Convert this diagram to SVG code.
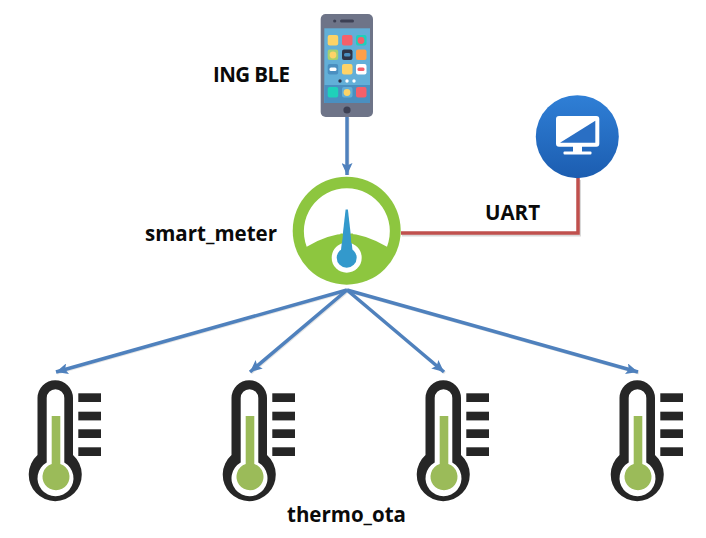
<svg xmlns="http://www.w3.org/2000/svg" width="706" height="538" viewBox="0 0 706 538">
<style>
text{font-family:"Open Sans","Liberation Sans",Arial,sans-serif;font-weight:bold;font-size:20.5px;fill:#0a0a0a}
.b{stroke:#4f81bd;stroke-width:3.5;fill:none;marker-end:url(#ah)}
.bs{stroke:#000;stroke-opacity:.1;stroke-width:3;fill:none}
.r{stroke:#c0504d;stroke-width:3.5;fill:none}
.sh{stroke:#000;stroke-opacity:.15;stroke-width:3;fill:none}
.bar{fill:#262626}
</style>
<defs>
<marker id="ah" markerUnits="userSpaceOnUse" markerWidth="13" markerHeight="11" refX="12" refY="5.5" orient="auto"><path d="M0 0L12 5.5L0 11L2.5 5.5Z" fill="#4f81bd"/></marker>
<linearGradient id="mon" x1="0" y1="0" x2="0" y2="1"><stop offset="0" stop-color="#2f7fd6"/><stop offset="1" stop-color="#1c5db0"/></linearGradient>
<g id="therm">
<path d="M37.5 398a17.75 17.75 0 0 1 35.5 0V455a26.5 26.5 0 1 1-35.5 0Z" fill="#262626"/>
<path d="M46.7 398a8.8 8.8 0 0 1 17.6 0V462.5a18 18 0 1 1-17.6 0Z" fill="#fff"/>
<path d="M51.7 416h8.6v48a13.5 13.5 0 1 1-8.6 0Z" fill="#9bbb59"/>
<rect class="bar" x="78.3" y="393.3" width="22.7" height="8.7"/>
<rect class="bar" x="78.3" y="411.7" width="22.7" height="8.7"/>
<rect class="bar" x="78.3" y="429.3" width="22.7" height="8.7"/>
<rect class="bar" x="78.3" y="447.3" width="22.7" height="8.7"/>
</g>
</defs>
<rect width="706" height="538" fill="#fff"/>
<g id="connectors">
<path class="bs" d="M348 118V175M348 291L57 373M348 291L251 373M348 291L445 373M348 291L639 373"/>
<path class="b" d="M347 117V175"/>
<path class="b" d="M347 290L56 372"/>
<path class="b" d="M347 290L250 372"/>
<path class="b" d="M347 290L444 372"/>
<path class="b" d="M347 290L638 372"/>
<path class="sh" d="M402 235H579.5V180"/>
<path class="r" d="M401 233H578V178"/>
</g>
<g id="phone">
<rect x="320.7" y="14" width="52.3" height="103" rx="5" fill="#6e7488"/>
<rect x="324.3" y="28.3" width="45.7" height="74.7" fill="#62afd8"/>
<rect x="324.3" y="85" width="45.7" height="18" fill="#4a8fc0"/>
<circle cx="334.7" cy="21" r="1.6" fill="#3c4054"/>
<rect x="340" y="19.5" width="14" height="3" rx="1.5" fill="#3c4054"/>
<circle cx="347" cy="110" r="3.6" fill="#3c4054"/>
<rect x="327.7" y="35" width="10.5" height="10.5" rx="2" fill="#fdd367"/>
<rect x="342" y="35" width="10.5" height="10.5" rx="2" fill="#f5606a"/>
<rect x="356" y="35" width="10.5" height="10.5" rx="2" fill="#1fd0ba"/><circle cx="361" cy="40.5" r="3.4" fill="#f5606a"/>
<rect x="327.7" y="49.5" width="10.5" height="10.5" rx="2" fill="#a5d070"/><circle cx="333" cy="55" r="3.4" fill="#fdd367"/>
<rect x="342" y="49.5" width="10.5" height="10.5" rx="2" fill="#2e3548"/><rect x="344" y="53" width="6.5" height="3.5" rx="1.5" fill="#4a8fc0"/>
<rect x="356" y="49.5" width="10.5" height="10.5" rx="2" fill="#ff9f4a"/>
<rect x="327.7" y="64" width="10.5" height="10.5" rx="2" fill="#4a8fc0"/><rect x="329.5" y="67.5" width="7" height="3.5" rx="1.5" fill="#fff"/>
<rect x="342" y="64" width="10.5" height="10.5" rx="2" fill="#fdd367"/>
<rect x="356" y="64" width="10.5" height="10.5" rx="2" fill="#fff"/><rect x="357.5" y="67.5" width="7" height="3.5" rx="1.5" fill="#f5606a"/>
<circle cx="340" cy="81" r="1.7" fill="#2e3548"/><circle cx="347" cy="81" r="1.7" fill="#fff"/><circle cx="354" cy="81" r="1.7" fill="#fff"/>
<rect x="327.7" y="87" width="10.5" height="10.5" rx="2" fill="#1fd0ba"/>
<rect x="342" y="87" width="10.5" height="10.5" rx="2" fill="#62afd8"/><circle cx="347" cy="92.5" r="3.4" fill="#fdd367"/>
<rect x="356" y="87" width="10.5" height="10.5" rx="2" fill="#f5606a"/>
<text x="213" y="82" textLength="77">ING BLE</text>
</g>
<g id="smart_meter">
<circle cx="346.7" cy="230.7" r="54" fill="#8dc63f"/>
<path d="M306.7 246.7A43 43 0 1 1 387 246.7Q365 234 347 233.5Q328 234 306.7 246.7Z" fill="#fff"/>
<circle cx="346.7" cy="257.7" r="15" fill="#fff"/>
<path d="M345.6 209.5H347.9L352.5 250H341Z" fill="#3399cc"/>
<path d="M340.5 233.5H342.8L342 243H340.5ZM352.9 233.5H350.6L351.4 243H352.9Z" fill="#8dc63f"/>
<circle cx="346.7" cy="257.7" r="10" fill="#3399cc"/>
<text x="145" y="241" textLength="132">smart_meter</text>
</g>
<g id="monitor">
<circle cx="577.3" cy="136.7" r="41.5" fill="url(#mon)"/>
<rect x="556" y="116" width="43.3" height="30.7" rx="3" fill="#fff"/>
<path d="M595.3 120.7V142.7H560Z" fill="#2a6fc4"/>
<rect x="573" y="146" width="9" height="6" fill="#fff"/>
<rect x="563.5" y="151.5" width="28" height="3" rx="1" fill="#fff"/>
<text x="485" y="220" textLength="55">UART</text>
</g>
<g id="thermo1"><use href="#therm"/></g>
<g id="thermo2"><use href="#therm" x="194"/></g>
<g id="thermo3"><use href="#therm" x="388"/></g>
<g id="thermo4"><use href="#therm" x="582"/></g>
<text x="287" y="522" textLength="119">thermo_ota</text>
</svg>
